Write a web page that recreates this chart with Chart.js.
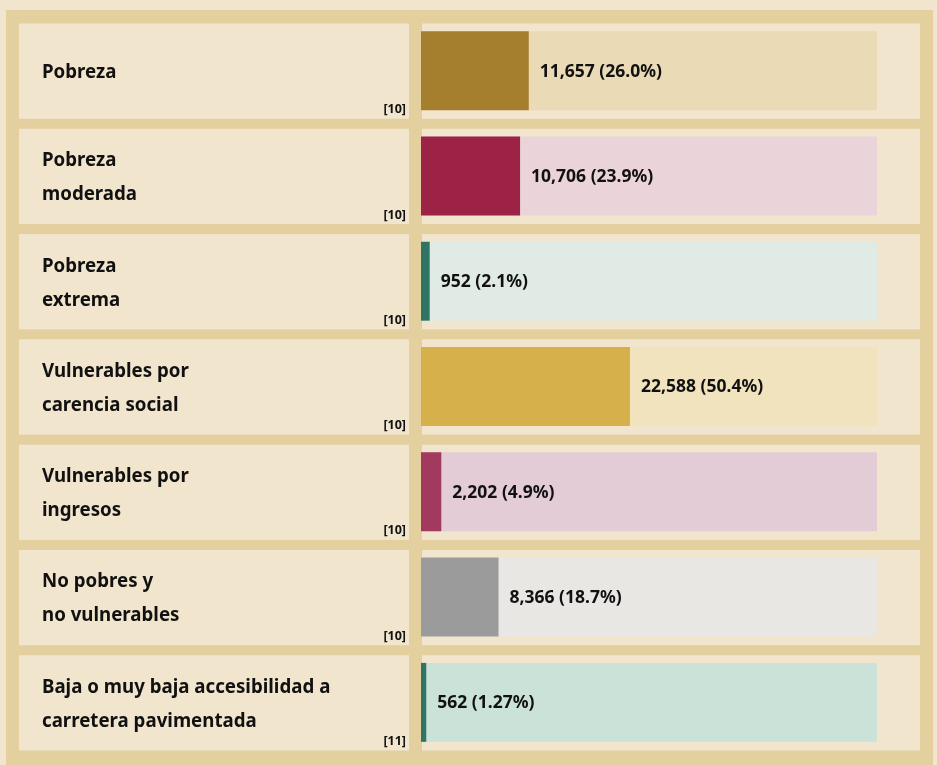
<!DOCTYPE html>
<html>
<head>
<meta charset="utf-8">
<script src="https://cdn.jsdelivr.net/npm/chart.js@4"></script>
<style>
  html, body { margin: 0; padding: 0; background: #f2e5cd; }
  #wrap { position: relative; width: 937px; height: 765px; }
</style>
</head>
<body>
<div id="wrap"><canvas id="chart" width="937" height="765"></canvas></div>
<script>
// data
var categories = [
  ['Pobreza'],
  ['Pobreza', 'moderada'],
  ['Pobreza', 'extrema'],
  ['Vulnerables por', 'carencia social'],
  ['Vulnerables por', 'ingresos'],
  ['No pobres y', 'no vulnerables'],
  ['Baja o muy baja accesibilidad a', 'carretera pavimentada']
];
var counts = [11657, 10706, 952, 22588, 2202, 8366, 562];
var percents = [26.0, 23.9, 2.1, 50.4, 4.9, 18.7, 1.27];
var pctLabels = ['26.0%', '23.9%', '2.1%', '50.4%', '4.9%', '18.7%', '1.27%'];
var refs = ['[10]', '[10]', '[10]', '[10]', '[10]', '[10]', '[11]'];
var trackMax = 110;

var barColors = ['#a67f2e', '#9c2346', '#2e7563', '#d6b04b', '#a23a5f', '#9b9b9b', '#2e7563'];
var trackColors = ['#eadbb6', '#ebd4d9', '#e1ebe5', '#f2e3bf', '#e3ccd6', '#e8e7e4', '#cbe2d9'];

var FRAME = '#e4cf9f';
var CELL = '#f2e5cd';

// frame, cells, labels and value texts around the bars
var panelPlugin = {
  id: 'panels',
  beforeDraw: function(chart) {
    var ctx = chart.ctx;
    var y = chart.scales.y;
    var step = y.getPixelForValue(1) - y.getPixelForValue(0);
    ctx.save();
    ctx.fillStyle = FRAME;
    ctx.fillRect(6, 10, 927, 755);
    categories.forEach(function(c, i) {
      var cy = y.getPixelForValue(i);
      var top = cy - step / 2 + 5.5;
      var h = step - 10;
      ctx.fillStyle = CELL;
      ctx.fillRect(19, top, 390, h);
      ctx.fillRect(422, top, 498, h);
    });
    ctx.restore();
  },
  afterDatasetsDraw: function(chart) {
    var ctx = chart.ctx;
    var y = chart.scales.y;
    var step = y.getPixelForValue(1) - y.getPixelForValue(0);
    var meta = chart.getDatasetMeta(1);
    ctx.save();
    ctx.fillStyle = '#111';
    ctx.textBaseline = 'middle';
    ctx.textAlign = 'left';

    // category labels, left aligned in the left cells
    ctx.font = 'bold 18.7px "Noto Sans"';
    categories.forEach(function(lines, i) {
      var cy = y.getPixelForValue(i);
      var lh = 34;
      var start = cy - (lines.length - 1) * lh / 2 + 2;
      lines.forEach(function(t, k) {
        ctx.fillText(t, 42, start + k * lh);
      });
    });

    ctx.font = 'bold 17.5px "Noto Sans"';
    meta.data.forEach(function(bar, i) {
      var txt = counts[i].toLocaleString('en-US') + ' (' + pctLabels[i] + ')';
      ctx.fillText(txt, bar.x + 11, bar.y + 1);
    });

    ctx.font = 'bold 12.5px "Noto Sans"';
    ctx.textAlign = 'right';
    ctx.textBaseline = 'alphabetic';
    refs.forEach(function(r, i) {
      var cy = y.getPixelForValue(i);
      ctx.fillText(r, 406, cy + step / 2 - 10);
    });
    ctx.restore();
  }
};

new Chart(document.getElementById('chart'), {
  type: 'bar',
  data: {
    labels: categories,
    datasets: [
      {
        data: categories.map(function() { return trackMax; }),
        backgroundColor: trackColors,
        grouped: false,
        order: 2
      },
      {
        data: percents,
        backgroundColor: barColors,
        grouped: false,
        order: 1
      }
    ]
  },
  options: {
    indexAxis: 'y',
    responsive: false,
    animation: false,
    barPercentage: 0.75,
    categoryPercentage: 1,
    layout: { padding: { left: 421, right: 60, top: 18, bottom: 10 } },
    plugins: {
      legend: { display: false },
      tooltip: { enabled: false }
    },
    scales: {
      x: {
        display: false,
        min: 0,
        max: trackMax
      },
      y: {
        display: false
      }
    }
  },
  plugins: [panelPlugin]
});
</script>
</body>
</html>
